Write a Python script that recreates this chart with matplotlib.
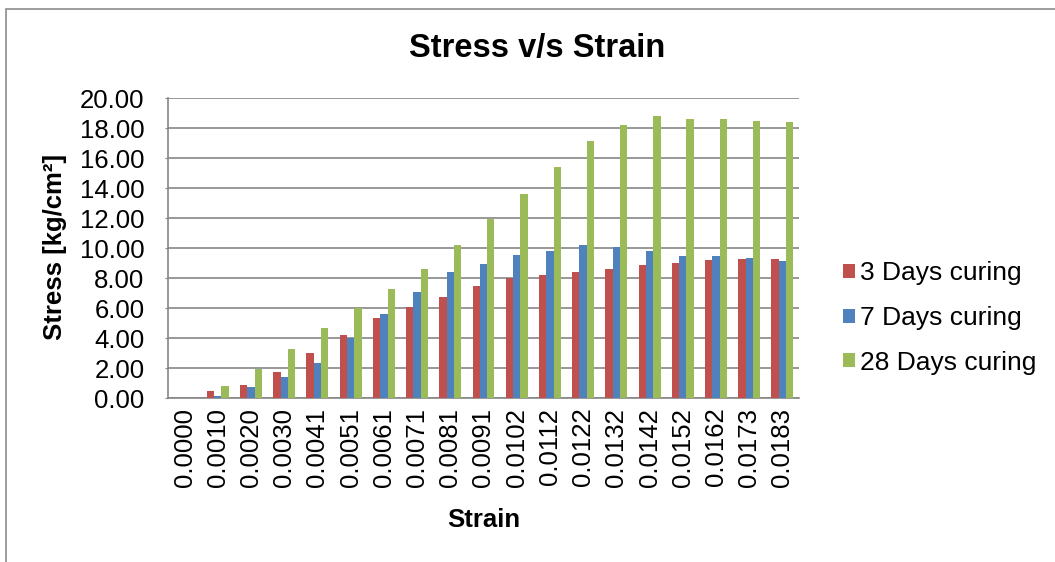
import matplotlib.pyplot as plt
import matplotlib as mpl
import numpy as np
from matplotlib.patches import Rectangle

mpl.rcParams['font.family'] = 'Liberation Sans'
mpl.rcParams['font.size'] = 18.5

# Strain values (category labels)
strain = ['0.0000', '0.0010', '0.0020', '0.0030', '0.0041', '0.0051', '0.0061',
          '0.0071', '0.0081', '0.0091', '0.0102', '0.0112', '0.0122', '0.0132',
          '0.0142', '0.0152', '0.0162', '0.0173', '0.0183']

# Stress in kg/cm2
days3 = [0.00, 0.45, 0.87, 1.72, 3.00, 4.21, 5.35, 6.07, 6.76, 7.44,
         8.02, 8.22, 8.40, 8.62, 8.85, 9.03, 9.18, 9.25, 9.29]
days7 = [0.00, 0.13, 0.74, 1.41, 2.35, 4.01, 5.60, 7.05, 8.40, 8.96,
         9.52, 9.83, 10.21, 10.06, 9.83, 9.50, 9.45, 9.34, 9.12]
days28 = [0.00, 0.80, 1.95, 3.27, 4.64, 5.98, 7.26, 8.62, 10.19, 11.92,
          13.59, 15.41, 17.16, 18.23, 18.81, 18.61, 18.57, 18.48, 18.41]

series_names = ['3 Days curing', '7 Days curing', '28 Days curing']
colors = ['#C0504D', '#4F81BD', '#9BBB59']
grey = '#868686'

fig = plt.figure(figsize=(10.55, 5.62), dpi=100)
ax = fig.add_axes([168 / 1055, 1 - 398 / 562, 631 / 1055, 300 / 562])

x = np.arange(len(strain))
w = 0.22
for i, (vals, name, c) in enumerate(zip([days3, days7, days28], series_names, colors)):
    ax.bar(x + (i - 1) * w, vals, width=w, color=c, label=name, zorder=3)

ax.set_xlim(-0.5, len(strain) - 0.5)
ax.set_ylim(0, 20)
ax.set_yticks(np.arange(0, 21, 2))
ax.set_yticklabels([f'{v:.2f}' for v in np.arange(0, 21, 2)])
ax.set_xticks(x)
ax.set_xticklabels(strain, rotation=90)
ax.tick_params(axis='x', length=0, pad=7)
ax.tick_params(axis='y', length=2, color=grey, pad=15)

ax.grid(axis='y', color=grey, linewidth=1.2, zorder=0)
ax.set_axisbelow(True)
for s in ['top', 'right']:
    ax.spines[s].set_visible(False)
for s in ['left', 'bottom']:
    ax.spines[s].set_color(grey)
    ax.spines[s].set_linewidth(1.2)

fig.text(537 / 1055, 1 - 48 / 562, 'Stress v/s Strain', ha='center', va='center',
         fontsize=23.5, fontweight='bold')
fig.text(483.5 / 1055, 1 - 520 / 562, 'Strain', ha='center', va='center',
         fontweight='bold')
fig.text(55 / 1055, 1 - 247 / 562, 'Stress [kg/cm²]', ha='center', va='center',
         rotation=90, fontweight='bold')

fig.legend(loc='center left', bbox_to_anchor=(843 / 1055, 1 - 318 / 562),
           frameon=False, fontsize=19, handlelength=0.45, handleheight=0.45,
           handletextpad=0.2, labelspacing=0.78, borderpad=0, borderaxespad=0)

# outer chart border (only left and top visible in the original crop)
fig.add_artist(Rectangle((6 / 1055, -0.2), 1.2, 1.2 - 9 / 562, transform=fig.transFigure,
                         fill=False, edgecolor='#8c8c8c', linewidth=1.2))

plt.savefig('out.png', dpi=100)
